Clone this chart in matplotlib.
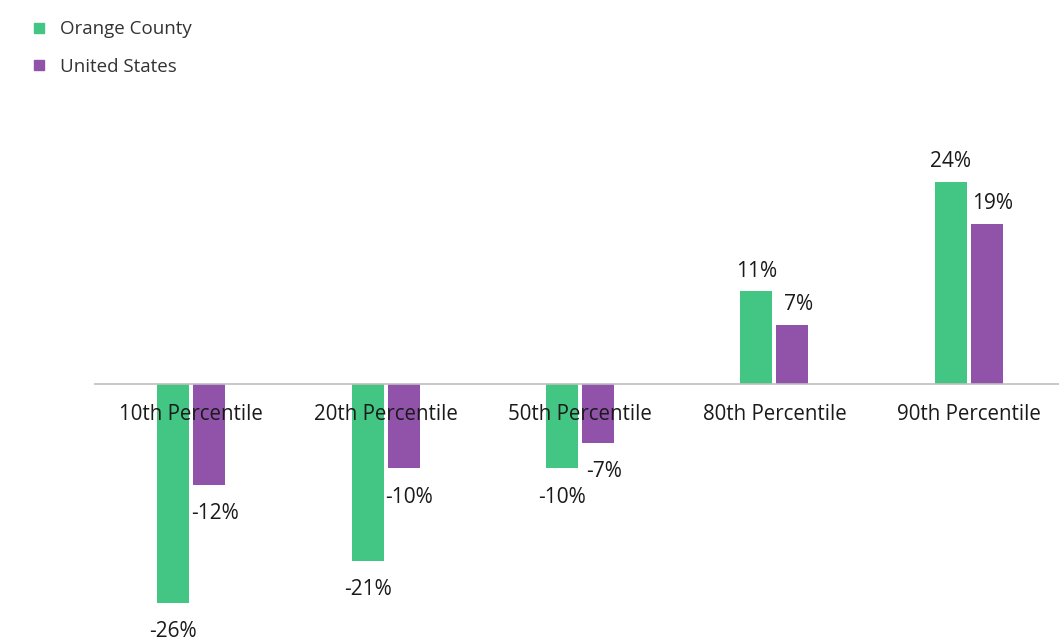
import numpy as np
import matplotlib
matplotlib.use("Agg")
from matplotlib import pyplot as plt
from matplotlib.lines import Line2D

categories = ["10th Percentile", "20th Percentile", "50th Percentile",
              "80th Percentile", "90th Percentile"]
orange_county = [-26, -21, -10, 11, 24]
united_states = [-12, -10, -7, 7, 19]
series_names = ["Orange County", "United States"]

green = "#43c684"
purple = "#9153a9"
txt = "#1a1a1a"

plt.rcParams["font.family"] = ["Open Sans", "DejaVu Sans"]

fig = plt.figure(figsize=(10.59, 6.43), dpi=100)
# axes placed so the baseline lands where the reference has it
ax = fig.add_axes([94 / 1059, 0.0, 972 / 1059, 543 / 643])
ax.set_xlim(-0.5, 4.5)
ax.set_ylim(-30.7, 33.7)

x = np.arange(len(categories))
w = 0.165
off = 0.0925
ax.bar(x - off, orange_county, w, color=green, zorder=2)
ax.bar(x + off, united_states, w, color=purple, zorder=2)
ax.axhline(0, color="#bfbfbf", lw=1.2, zorder=3)

for i in range(len(categories)):
    for vals, dx, shift in ((orange_county, -off, 0.0), (united_states, off, 0.03)):
        v = vals[i]
        if v >= 0:
            ax.annotate("{}%".format(v), (x[i] + dx + shift, v), xytext=(0, 7),
                        textcoords="offset points", ha="center", va="bottom",
                        fontsize=15, color=txt, zorder=4)
        else:
            ax.annotate("{}%".format(v), (x[i] + dx + shift, v), xytext=(0, -13),
                        textcoords="offset points", ha="center", va="top",
                        fontsize=15, color=txt, zorder=4)
    ax.text(x[i], -3.6, categories[i], ha="center", va="center",
            fontsize=14.8, color=txt, zorder=4)

ax.axis("off")

handles = [Line2D([], [], marker="s", ls="", color=green, markersize=7),
           Line2D([], [], marker="s", ls="", color=purple, markersize=7)]
fig.legend(handles, series_names, loc="upper left", bbox_to_anchor=(0.012, 0.995),
           frameon=False, fontsize=13.5, handletextpad=0.6, labelspacing=1.05,
           handlelength=1.0, labelcolor="#333333")

fig.savefig("out.png", dpi=100)
